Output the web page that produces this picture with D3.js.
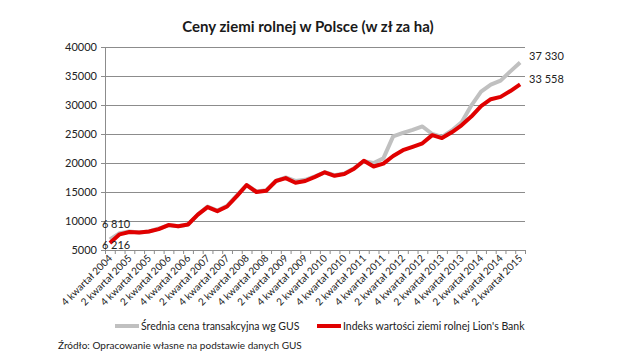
<!DOCTYPE html>
<html>
<head>
<meta charset="utf-8">
<script src="https://cdn.jsdelivr.net/npm/d3@7"></script>
<style>
  html, body { margin: 0; padding: 0; background: #fff; }
  svg { display: block; font-family: Lato, 'Open Sans', sans-serif; }
</style>
</head>
<body>
<div id="chart"></div>
<script>
/* global d3 */

const quarters = [
  '4 kwartał 2004',
  '1 kwartał 2005', '2 kwartał 2005', '3 kwartał 2005', '4 kwartał 2005',
  '1 kwartał 2006', '2 kwartał 2006', '3 kwartał 2006', '4 kwartał 2006',
  '1 kwartał 2007', '2 kwartał 2007', '3 kwartał 2007', '4 kwartał 2007',
  '1 kwartał 2008', '2 kwartał 2008', '3 kwartał 2008', '4 kwartał 2008',
  '1 kwartał 2009', '2 kwartał 2009', '3 kwartał 2009', '4 kwartał 2009',
  '1 kwartał 2010', '2 kwartał 2010', '3 kwartał 2010', '4 kwartał 2010',
  '1 kwartał 2011', '2 kwartał 2011', '3 kwartał 2011', '4 kwartał 2011',
  '1 kwartał 2012', '2 kwartał 2012', '3 kwartał 2012', '4 kwartał 2012',
  '1 kwartał 2013', '2 kwartał 2013', '3 kwartał 2013', '4 kwartał 2013',
  '1 kwartał 2014', '2 kwartał 2014', '3 kwartał 2014', '4 kwartał 2014',
  '1 kwartał 2015', '2 kwartał 2015'
];

// Średnia cena transakcyjna wg GUS
const gusValues = [
  6810,
  7900, 8200, 8000, 8200,
  8700, 9300, 9100, 9400,
  11100, 12500, 11800, 12600,
  14400, 16200, 15100, 15300,
  16900, 17500, 16900, 17100,
  17700, 18400, 17900, 18200,
  19100, 20300, 20000, 20800,
  24600, 25200, 25700, 26300,
  25000, 24500, 25600, 27000,
  29900, 32300, 33500, 34200,
  35800, 37330
];

// Indeks wartości ziemi rolnej Lion's Bank
const lionsValues = [
  6216,
  7700, 8100, 8000, 8200,
  8600, 9300, 9100, 9400,
  11100, 12400, 11700, 12500,
  14300, 16200, 15000, 15200,
  16900, 17400, 16600, 16900,
  17600, 18400, 17800, 18100,
  19000, 20400, 19400, 19900,
  21200, 22200, 22800, 23400,
  24800, 24300, 25300, 26500,
  28000, 29800, 31000, 31400,
  32400, 33558
];

const yTicks = [5000, 10000, 15000, 20000, 25000, 30000, 35000, 40000];
const seriesNames = ['Średnia cena transakcyjna wg GUS', "Indeks wartości ziemi rolnej Lion's Bank"];

const W = 640, H = 352;
const plot = { left: 105, right: 525, top: 47, bottom: 250 };
const fmt = v => d3.format(',')(v).replace(/,/g, ' ');

const svg = d3.select('#chart').append('svg').attr('width', W).attr('height', H);

svg.append('text')
  .attr('x', 308).attr('y', 32).attr('text-anchor', 'middle')
  .attr('font-size', 15).attr('font-weight', 700).attr('fill', '#1a1a1a')
  .text('Ceny ziemi rolnej w Polsce (w zł za ha)');

const x = d3.scaleBand().domain(quarters).range([plot.left, plot.right]).padding(0);
const y = d3.scaleLinear().domain([5000, 40000]).range([plot.bottom, plot.top]);
const cx = d => x(d) + x.bandwidth() / 2;

// grid
svg.append('g').selectAll('line').data(yTicks.slice(1)).join('line')
  .attr('x1', plot.left).attr('x2', plot.right)
  .attr('y1', d => y(d)).attr('y2', d => y(d))
  .attr('stroke', '#8c8c8c').attr('stroke-width', 1).attr('shape-rendering', 'crispEdges');

// y axis
const yAxis = svg.append('g').attr('transform', `translate(${plot.left},0)`)
  .call(d3.axisLeft(y).tickValues(yTicks).tickSize(4).tickPadding(4).tickFormat(d3.format('d')));
yAxis.select('.domain').attr('stroke', '#8c8c8c');
yAxis.selectAll('.tick line').attr('stroke', '#8c8c8c');
yAxis.selectAll('.tick text').attr('font-size', 11).attr('fill', '#222').attr('font-family', 'Lato, sans-serif');

// x axis: tick marks at category boundaries
const edges = d3.range(quarters.length + 1);
const xb = d3.scaleLinear().domain([0, quarters.length]).range([plot.left, plot.right]);
const xAxis = svg.append('g').attr('transform', `translate(0,${plot.bottom})`)
  .call(d3.axisBottom(xb).tickValues(edges).tickSize(4).tickFormat(''));
xAxis.select('.domain').attr('stroke', '#8c8c8c');
xAxis.selectAll('.tick line').attr('stroke', '#8c8c8c');

const xLabels = svg.append('g').attr('transform', `translate(0,${plot.bottom})`)
  .call(d3.axisBottom(x).tickValues(quarters.filter((q, i) => i % 2 === 0)).tickSize(0));
xLabels.select('.domain').remove();
xLabels.selectAll('.tick text')
  .attr('font-size', 10).attr('fill', '#222').attr('font-family', 'Lato, sans-serif')
  .attr('text-anchor', 'end').attr('dy', 0).attr('y', 0)
  .attr('transform', 'translate(3,9) rotate(-45)');

// lines
const line = d3.line().x((d, i) => cx(quarters[i])).y(d => y(d));
svg.append('path').datum(gusValues).attr('d', line)
  .attr('fill', 'none').attr('stroke', '#c0c0c0').attr('stroke-width', 4).attr('stroke-linejoin', 'round');
svg.append('path').datum(lionsValues).attr('d', line)
  .attr('fill', 'none').attr('stroke', '#e00000').attr('stroke-width', 4).attr('stroke-linejoin', 'round');

// data labels
const last = quarters.length - 1;
const lbl = (txt, xx, yy, anchor) => svg.append('text').attr('x', xx).attr('y', yy)
  .attr('text-anchor', anchor).attr('font-size', 11).attr('fill', '#222').text(txt);
lbl(fmt(gusValues[0]), cx(quarters[0]) - 8, y(gusValues[0]) - 12, 'start');
lbl(fmt(lionsValues[0]), cx(quarters[0]) - 8, y(lionsValues[0]) + 6, 'start');
lbl(fmt(gusValues[last]), cx(quarters[last]) + 9, y(gusValues[last]) - 2, 'start');
lbl(fmt(lionsValues[last]), cx(quarters[last]) + 9, y(lionsValues[last]) - 1, 'start');

// legend
const legend = [
  { name: seriesNames[0], color: '#c0c0c0', x0: 115 },
  { name: seriesNames[1], color: '#e00000', x0: 317 }
];
legend.forEach(d => {
  svg.append('line').attr('x1', d.x0).attr('x2', d.x0 + 24).attr('y1', 326).attr('y2', 326)
    .attr('stroke', d.color).attr('stroke-width', 4);
  svg.append('text').attr('x', d.x0 + 26).attr('y', 330)
    .attr('font-size', 10.5).attr('fill', '#222').text(d.name);
});

svg.append('text').attr('x', 58).attr('y', 349)
  .attr('font-size', 10).attr('fill', '#222')
  .text('Źródło: Opracowanie własne na podstawie danych GUS');
</script>
</body>
</html>
